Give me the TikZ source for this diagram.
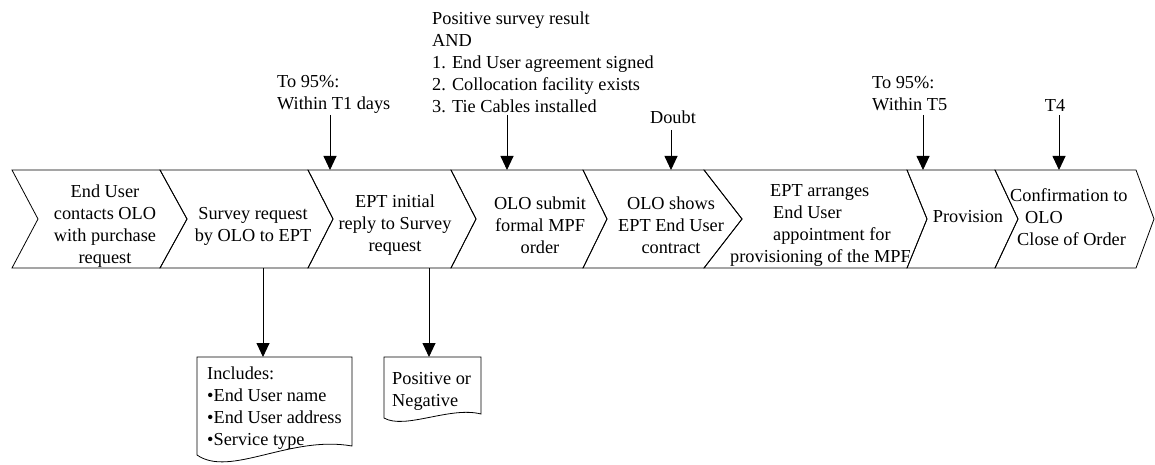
\documentclass[tikz,border=0pt]{standalone}
\usepackage{fontspec}
\setmainfont{Liberation Serif}
\newfontfamily\tnr{Liberation Serif}
\usetikzlibrary{arrows.meta}
\begin{document}
\begin{tikzpicture}[x=1pt,y=-1pt,
  chev/.style={draw=black, line width=0.8pt, line join=miter},
  txt/.style={font=\tnr\fontsize{18.3}{22}\selectfont, align=center, inner sep=0pt},
  ltxt/.style={font=\tnr\fontsize{18.3}{22}\selectfont, align=left, inner sep=0pt, anchor=west},
  conn/.style={draw=black, line width=0.9pt, -{Triangle[width=13pt,length=14pt]}},
  docbox/.style={draw=black, line width=0.8pt}]
\useasboundingbox (0,0) rectangle (1155,465);

% chevrons
\def\T{170}\def\M{219}\def\Bt{268}
\foreach \a/\ta/\b/\tb in {12/38/160/187, 160/187/308/333, 308/333/451/476, 451/476/583/607,
                           583/607/704/742, 704/742/907/927, 907/927/995/1018, 995/1018/1136/1154}{
  \draw[chev] (\a,\T) -- (\b,\T) -- (\tb,\M) -- (\b,\Bt) -- (\a,\Bt) -- (\ta,\M) -- cycle;
}

% chevron texts
\node[txt] (c1) at (105,226) {End User\\contacts OLO\\with purchase\\request};
\node[txt] (c2) at (253,226) {Survey request\\by OLO to EPT};
\node[txt] (c3) at (395,225) {EPT initial\\reply to Survey\\request};
\node[txt] (c4) at (540,225) {OLO submit\\formal MPF\\order};
\node[txt] (c5) at (671,225) {OLO shows\\EPT End User\\contract};
\node[ltxt] (c6) at (730,225) {\hspace*{40pt}EPT arranges\\\hspace*{43pt}End User\\\hspace*{43pt}appointment for\\provisioning of the MPF};
\node[txt] (c7) at (968,217) {Provision};
\node[ltxt] (c8) at (1010,217) {Confirmation to\\\hspace*{15pt}OLO\\\hspace*{7pt}Close of Order};

% top labels
\node[ltxt] (t1) at (277,94) {To 95\%:\\Within T1 days};
\node[ltxt] (t2) at (432,62) {Positive survey result\\AND\\1. End User agreement signed\\2. Collocation facility exists\\3. Tie Cables installed};
\node[txt] (t3) at (673,117) {Doubt};
\node[ltxt] (t4) at (872,94) {To 95\%:\\Within T5};
\node[txt] (t5) at (1055,105) {T4};

% arrow coordinates
\coordinate (a1s) at (330,115); \coordinate (a1e) at (330,170);
\coordinate (a2s) at (507,115); \coordinate (a2e) at (507,170);
\coordinate (a3s) at (671,130); \coordinate (a3e) at (671,170);
\coordinate (a4s) at (923,115); \coordinate (a4e) at (923,170);
\coordinate (a5s) at (1059,115); \coordinate (a5e) at (1059,170);
\draw[conn] (a1s) -- (a1e);
\draw[conn] (a2s) -- (a2e);
\draw[conn] (a3s) -- (a3e);
\draw[conn] (a4s) -- (a4e);
\draw[conn] (a5s) -- (a5e);

% document boxes
\draw[docbox] (197,455) .. controls (230,478) and (290,435) .. (352,446) -- (352,357) -- (197,357) -- cycle;
\draw[docbox] (384,418) .. controls (405,430) and (450,406) .. (481,414) -- (481,357) -- (384,357) -- cycle;
\node[ltxt] (d1) at (207,408) {Includes:\\\textbullet End User name\\\textbullet End User address\\\textbullet Service type};
\node[ltxt] (d2) at (392,391) {Positive or\\Negative};

\coordinate (b1s) at (263,268); \coordinate (b1e) at (263,357);
\coordinate (b2s) at (429,268); \coordinate (b2e) at (429,357);
\draw[conn] (b1s) -- (b1e);
\draw[conn] (b2s) -- (b2e);
\end{tikzpicture}
\end{document}
